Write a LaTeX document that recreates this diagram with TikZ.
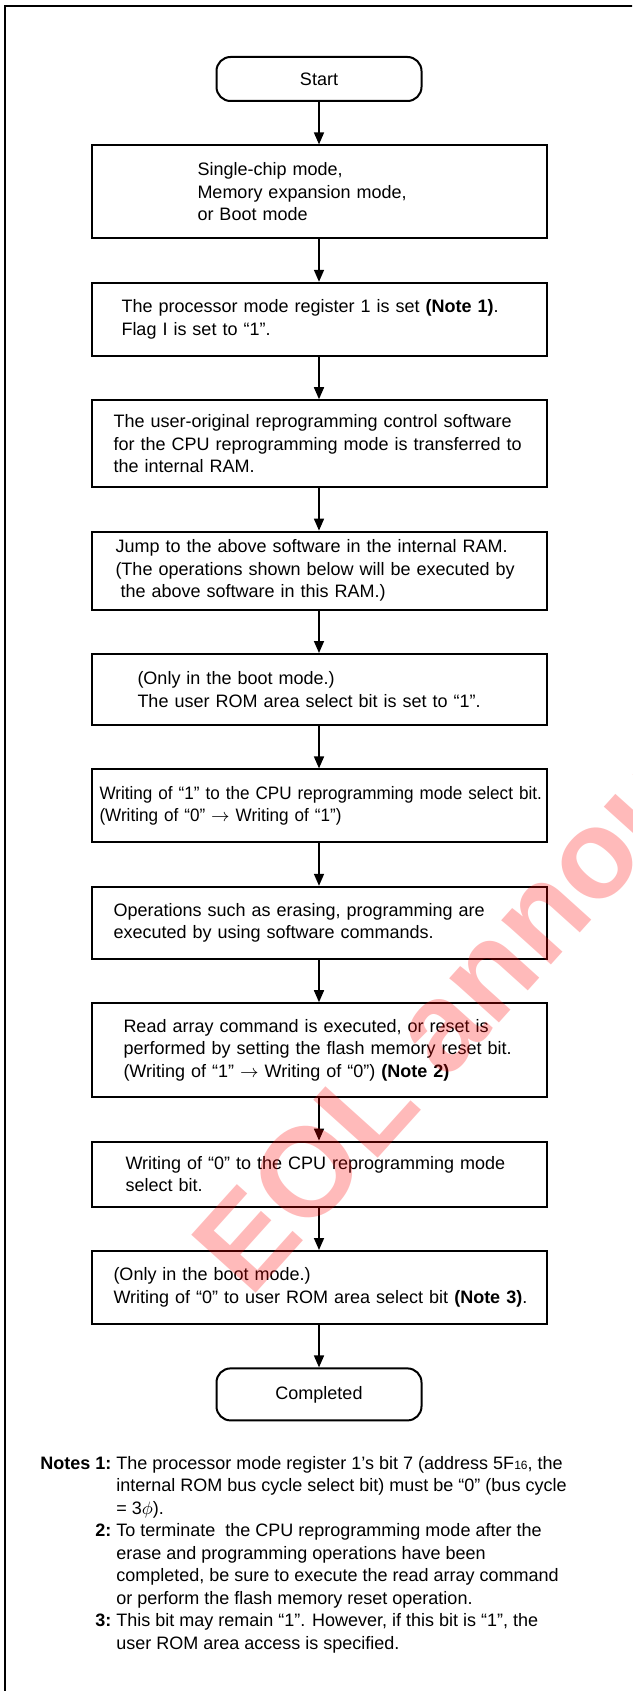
\documentclass[tikz,border=0pt]{standalone}
\usepackage{fontspec}
\setmainfont{Liberation Sans}
\newfontfamily\tightfont{Liberation Sans}[FakeStretch=0.95]
\usetikzlibrary{positioning,arrows.meta}
\tikzset{
  stepbox/.style  = {shape=rectangle, draw, line width=1pt,
                     minimum width=227.5pt, text width=227.5pt,
                     inner xsep=0pt, inner ysep=0pt, align=left,
                     execute at begin node={\leftskip=#1\relax\rightskip=-8pt plus 1fil\relax}},
  stepbox/.default = 0pt,
  termnode/.style = {shape=rectangle, rounded corners=7pt, draw,
                     line width=1pt, align=center},
  notetext/.style = {align=left, inner sep=0pt},
  stamp/.style    = {text=red, text opacity=0.27, inner sep=0pt,
                     font=\fontsize{63}{63}\selectfont\bfseries}
}

\begin{document}
\begin{tikzpicture}
  [
    x                 = 0.5pt,
    y                 = -0.5pt,
    node distance     = 21.2pt,
    every node/.style = {font=\fontsize{9}{11.25}\selectfont},
    flow/.style       = {draw, line width=0.8pt, -{Triangle[length=6pt,width=5pt]}}
  ]
  \useasboundingbox (0,0) rectangle (632,1691);
  \node [termnode, minimum width=102.5pt, minimum height=22pt] (start) at (319,79) {Start};
  \node [stepbox=53pt, minimum height=46.5pt, below=of start] (modes)
    {Single-chip mode,\\Memory expansion mode,\\or Boot mode};
  \node [stepbox=15pt, minimum height=36.5pt, below=of modes] (pmreg)
    {The processor mode register 1 is set \textbf{(Note 1)}.\\Flag I is set to “1”.};
  \node [stepbox=11pt, minimum height=43.5pt, below=of pmreg] (transfer)
    {The user-original reprogramming control software\\for the CPU reprogramming mode is transferred to\\the internal RAM.};
  \node [stepbox=12pt, minimum height=39pt, below=of transfer] (jump)
    {Jump to the above software in the internal RAM.\\(The operations shown below will be executed by\\\hspace*{2.5pt}the above software in this RAM.)};
  \node [stepbox=23pt, minimum height=35.5pt, below=of jump] (romsel)
    {(Only in the boot mode.)\\The user ROM area select bit is set to “1”.};
  \node [stepbox=4pt, minimum height=36.5pt, below=of romsel,
         font=\fontsize{9}{11.25}\tightfont] (cpuon)
    {Writing of “1” to the CPU reprogramming mode select bit.\\(Writing of “0” $\rightarrow$ Writing of “1”)};
  \node [stepbox=11pt, minimum height=36pt, below=of cpuon] (ops)
    {Operations such as erasing, programming are\\executed by using software commands.};
  \node [stepbox=16pt, minimum height=47pt, below=of ops] (readarr)
    {Read array command is executed, or reset is\\performed by setting the flash memory reset bit.\\(Writing of “1” $\rightarrow$ Writing of “0”) \textbf{(Note 2)}};
  \node [stepbox=17pt, minimum height=32.5pt, below=of readarr] (cpuoff)
    {Writing of “0” to the CPU reprogramming mode\\select bit.};
  \node [stepbox=11pt, minimum height=36.5pt, below=of cpuoff] (romclr)
    {(Only in the boot mode.)\\Writing of “0” to user ROM area select bit \textbf{(Note 3)}.};
  \node [termnode, minimum width=102.5pt, minimum height=26pt, below=of romclr] (done) {Completed};

  \draw[flow] (start) -- (modes);
  \draw[flow] (modes) -- (pmreg);
  \draw[flow] (pmreg) -- (transfer);
  \draw[flow] (transfer) -- (jump);
  \draw[flow] (jump) -- (romsel);
  \draw[flow] (romsel) -- (cpuon);
  \draw[flow] (cpuon) -- (ops);
  \draw[flow] (ops) -- (readarr);
  \draw[flow] (readarr) -- (cpuoff);
  \draw[flow] (cpuoff) -- (romclr);
  \draw[flow] (romclr) -- (done);

  % notes under the chart
  \node [notetext, anchor=base west] (notes) at (40,1469) {%
    \begin{tabular}[t]{@{}r@{\hspace{2.5pt}}l@{}}
      \textbf{Notes 1:} & The processor mode register 1’s bit 7 (address 5F{\fontsize{6}{6}\selectfont 16}, the\\
      & internal ROM bus cycle select bit) must be “0” (bus cycle\\
      & = 3$\phi$).\\
      \textbf{2:} & To terminate~ the CPU reprogramming mode after the\\
      & erase and programming operations have been\\
      & completed, be sure to execute the read array command\\
      & or perform the flash memory reset operation.\\
      \textbf{3:} & This bit may remain “1”. However, if this bit is “1”, the\\
      & user ROM area access is specified.
    \end{tabular}};

  \begin{scope}
    \clip (0,0) rectangle (632,1691);
    \draw[line width=1.2pt] (5,1700) -- (5,6) -- (640,6);
    \node [stamp, rotate=48, anchor=base west] (eol) at (250,1300) {EOL announced};
  \end{scope}
\end{tikzpicture}
\end{document}
